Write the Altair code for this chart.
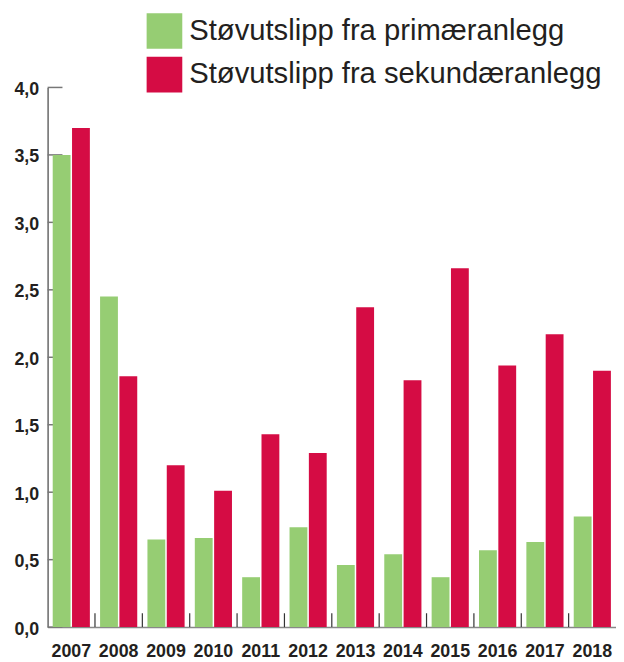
import altair as alt
import pandas as pd

years = ["2007", "2008", "2009", "2010", "2011", "2012", "2013", "2014", "2015", "2016", "2017", "2018"]
primary = [3.5, 2.45, 0.65, 0.66, 0.37, 0.74, 0.46, 0.54, 0.37, 0.57, 0.63, 0.82]
secondary = [3.7, 1.86, 1.20, 1.01, 1.43, 1.29, 2.37, 1.83, 2.66, 1.94, 2.17, 1.90]
series = ["Støvutslipp fra primæranlegg", "Støvutslipp fra sekundæranlegg"]
colors = ["#96cd73", "#d50c44"]
y_ticks = [0, 0.5, 1.0, 1.5, 2.0, 2.5, 3.0, 3.5, 4.0]

rows = []
for i, y in enumerate(years):
    rows.append({"year": y, "series": series[0], "value": primary[i]})
    rows.append({"year": y, "series": series[1], "value": secondary[i]})
df = pd.DataFrame(rows)

W, H = 574, 545

xscale = alt.Scale(domain=years, paddingInner=0, paddingOuter=0)
yscale = alt.Scale(domain=[0, 4], nice=False)

xaxis = alt.Axis(title=None, labelAngle=0, ticks=False, grid=False,
                 bandPosition=0.5,
                 labelFont="Liberation Sans", labelFontWeight="bold",
                 labelFontSize=18, labelColor="#231f20", labelPadding=16,
                 domainColor="#888888", domainWidth=1.5)
yaxis = alt.Axis(title=None, values=y_ticks, ticks=False, grid=False,
                 labelExpr="replace(format(datum.value, '.1f'), '.', ',')",
                 labelFont="Liberation Sans", labelFontWeight="bold",
                 labelFontSize=18, labelColor="#231f20", labelPadding=9,
                 labelOffset=2,
                 domainColor="#666666", domainWidth=1.5)

bars = alt.Chart(df).mark_bar().encode(
    x=alt.X("year:N", scale=xscale, sort=years, axis=xaxis),
    xOffset=alt.XOffset("series:N", sort=series,
                        scale=alt.Scale(paddingInner=0.077, paddingOuter=0.264)),
    y=alt.Y("value:Q", scale=yscale, axis=yaxis),
    color=alt.Color("series:N", sort=series,
                    scale=alt.Scale(domain=series, range=colors),
                    legend=alt.Legend(title=None, orient="none", legendX=100, legendY=-75,
                                      symbolType="square", symbolSize=1296,
                                      symbolStrokeWidth=0, rowPadding=8,
                                      labelFont="Liberation Sans", labelFontSize=29.5,
                                      labelColor="#231f20", labelOffset=7,
                                      labelLimit=600, padding=0)),
)

ytick_df = pd.DataFrame({"v": y_ticks})
yticks = alt.Chart(ytick_df).mark_rule(color="#777777", strokeWidth=1.5).encode(
    y=alt.Y("v:Q", scale=yscale, axis=yaxis),
    x=alt.value(0), x2=alt.value(15),
)

xtick_df = pd.DataFrame({"year": years[1:]})
xticks = alt.Chart(xtick_df).mark_rule(color="#333333", strokeWidth=1.2).encode(
    x=alt.X("year:N", scale=xscale, sort=years, bandPosition=0, axis=xaxis),
    y=alt.value(H - 14), y2=alt.value(H),
)

chart = alt.layer(yticks, xticks, bars).properties(
    width=W, height=H,
    autosize=alt.AutoSizeParams(type="none"),
    padding={"left": 40, "top": 77, "right": 0, "bottom": 32},
).configure_view(stroke=None)

chart.save("out.html", embed_options={"renderer": "svg", "actions": False})
